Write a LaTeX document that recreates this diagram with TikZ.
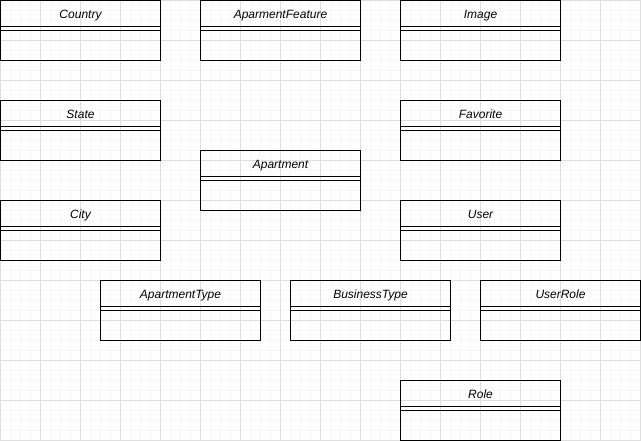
\documentclass[tikz,border=0pt]{standalone}
\usepackage{fontspec}
\setmainfont{Liberation Sans}
\begin{document}
\begin{tikzpicture}[x=1bp,y=-1bp,
  box/.style={draw=black,line width=1bp,fill=none,minimum width=160bp,minimum height=60bp,inner sep=0pt,outer sep=0pt,anchor=north west},
  title/.style={font=\itshape\fontsize{12bp}{14bp}\selectfont,inner sep=0pt,anchor=base},
  sep/.style={draw=black,line width=1bp},
  minorgrid/.style={draw=black!3.5,line width=1bp},
  majorgrid/.style={draw=black!13,line width=1bp}]
\useasboundingbox (0,0) rectangle (641,441);
\fill[white] (0,0) rectangle (641,441);
\foreach \i in {0,10,...,640} {\draw[minorgrid] (\i+0.5,0) -- (\i+0.5,441);}
\foreach \j in {0,10,...,440} {\draw[minorgrid] (0,\j+0.5) -- (641,\j+0.5);}
\foreach \i in {0,40,...,640} {\draw[majorgrid] (\i+0.5,0) -- (\i+0.5,441);}
\foreach \j in {0,40,...,440} {\draw[majorgrid] (0,\j+0.5) -- (641,\j+0.5);}
\newcommand{\umlclass}[4]{%
  \node[box] (#1) at (#2+0.5,#3+0.5) {};
  \node[title] (#1-t) at (#2+80.5,#3+18.5) {#4};
  \draw[sep] (#2+0.5,#3+26.5) -- (#2+160.5,#3+26.5);
  \draw[sep] (#2+0.5,#3+30.5) -- (#2+160.5,#3+30.5);
}
\umlclass{country}{0}{0}{Country}
\umlclass{feature}{200}{0}{AparmentFeature}
\umlclass{image}{400}{0}{Image}
\umlclass{state}{0}{100}{State}
\umlclass{favorite}{400}{100}{Favorite}
\umlclass{apartment}{200}{150}{Apartment}
\umlclass{city}{0}{200}{City}
\umlclass{user}{400}{200}{User}
\umlclass{apttype}{100}{280}{ApartmentType}
\umlclass{bustype}{290}{280}{BusinessType}
\umlclass{userrole}{480}{280}{UserRole}
\umlclass{role}{400}{380}{Role}
\end{tikzpicture}
\end{document}
